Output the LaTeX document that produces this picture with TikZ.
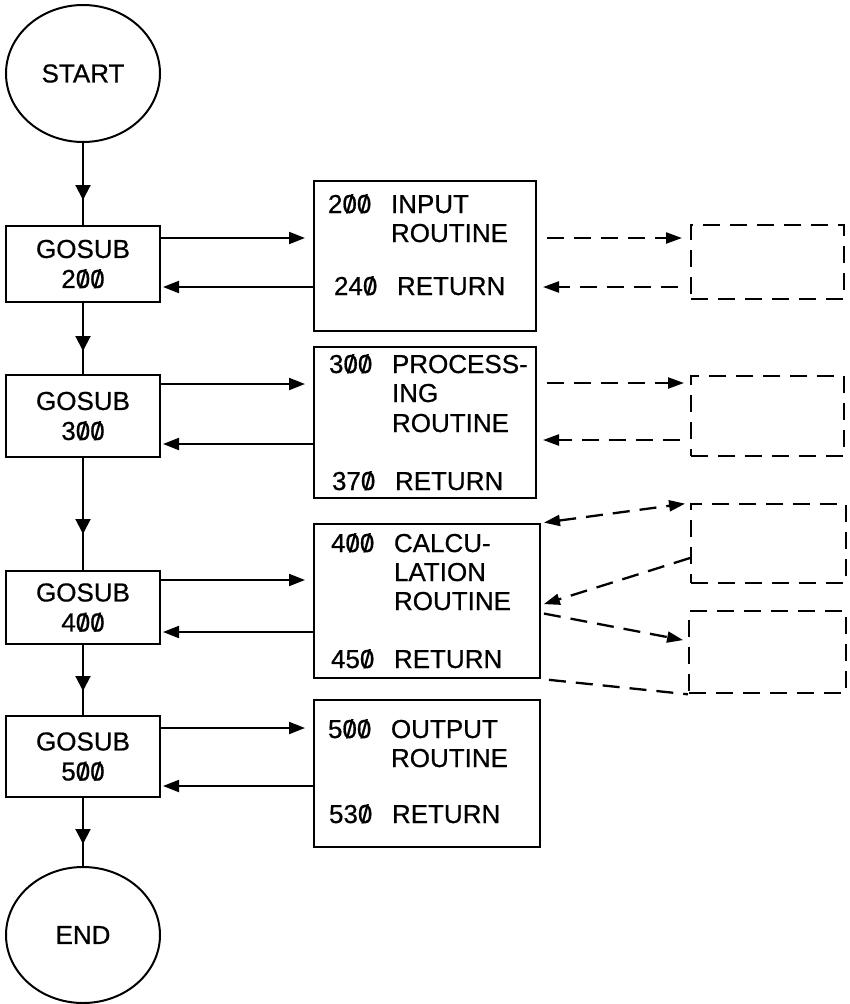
\documentclass[tikz,border=0pt]{standalone}
\usepackage{fontspec}
\setmainfont{Liberation Sans}[FakeBold=0.6]
\usetikzlibrary{arrows.meta,decorations.markings,shapes.geometric}
\newcommand{\slz}{\ooalign{0\cr\hidewidth/\hidewidth\cr}}
\newcommand{\numw}[2]{\makebox[63pt][l]{#1}#2}
\begin{document}
\begin{tikzpicture}[x=1pt,y=-1pt,line width=2pt,
  font=\fontsize{26}{30}\selectfont,
  terminal/.style={draw,ellipse,inner sep=0pt,minimum width=154pt,minimum height=137pt},
  gbox/.style={draw,rectangle,inner sep=0pt,minimum width=154pt,align=center},
  rbox/.style={draw,rectangle,inner sep=0pt,anchor=north west},
  dbox/.style={draw,rectangle,inner sep=0pt,anchor=north west,line width=2.3pt,dash pattern=on 17pt off 10pt},
  txt/.style={anchor=base west,inner sep=0pt},
  harr/.style={-{Triangle[length=16pt,width=12pt]}},
  darr/.style={line width=2.3pt,dash pattern=on 17pt off 10pt,-{Triangle[length=16pt,width=11pt]}},
  midarrow/.style={postaction={decorate,decoration={markings,
     mark=at position #1 with {\arrow{Triangle[length=15pt,width=15pt]}}}}}
]
\useasboundingbox (0,0) rectangle (849,1004);

% terminals
\node[terminal] (start) at (83,73.5) {START};
\node[terminal,minimum height=136pt] (end) at (83,935) {END};

% gosub boxes
\node[gbox,minimum height=76pt] (g2) at (83,264) {GOSUB\\2\slz\slz};
\node[gbox,minimum height=82pt] (g3) at (83,416) {GOSUB\\3\slz\slz};
\node[gbox,minimum height=73pt] (g4) at (83,607.5) {GOSUB\\4\slz\slz};
\node[gbox,minimum height=81pt] (g5) at (83,756.5) {GOSUB\\5\slz\slz};

% routine boxes
\node[rbox,minimum width=222pt,minimum height=150pt] (r2) at (313,180) {};
\node[rbox,minimum width=222pt,minimum height=151pt] (r3) at (313,346) {};
\node[rbox,minimum width=226pt,minimum height=154pt] (r4) at (313,523) {};
\node[rbox,minimum width=226pt,minimum height=147pt] (r5) at (313,699) {};

% routine texts
\node[txt] (r2a) at (327,213) {\numw{2\slz\slz}{INPUT}};
\node[txt] (r2b) at (390,242) {ROUTINE};
\node[txt] (r2c) at (333,295) {\numw{24\slz}{RETURN}};

\node[txt] (r3a) at (328,373) {\numw{3\slz\slz}{PROCESS-}};
\node[txt] (r3b) at (391,402) {ING};
\node[txt] (r3c) at (391,432) {ROUTINE};
\node[txt] (r3d) at (331,490) {\numw{37\slz}{RETURN}};

\node[txt] (r4a) at (330,552) {\numw{4\slz\slz}{CALCU-}};
\node[txt] (r4b) at (393,581) {LATION};
\node[txt] (r4c) at (393,610) {ROUTINE};
\node[txt] (r4d) at (330,668) {\numw{45\slz}{RETURN}};

\node[txt] (r5a) at (327,738) {\numw{5\slz\slz}{OUTPUT}};
\node[txt] (r5b) at (390,767) {ROUTINE};
\node[txt] (r5c) at (328,823) {\numw{53\slz}{RETURN}};

% dashed boxes
\node[dbox,minimum width=153pt,minimum height=74pt] (d2) at (690,224) {};
\node[dbox,minimum width=153pt,minimum height=80pt] (d3) at (690,375) {};
\node[dbox,minimum width=155pt,minimum height=79pt] (d4a) at (690,503) {};
\node[dbox,minimum width=157pt,minimum height=82pt] (d4b) at (688,610) {};

% main vertical flow
\draw[midarrow=57pt] (start.south) -- (g2.north);
\draw[midarrow=48pt] (g2.south) -- (g3.north);
\draw[midarrow=76pt] (g3.south) -- (g4.north);
\draw[midarrow=46pt] (g4.south) -- (g5.north);
\draw[midarrow=46pt] (g5.south) -- (end.north);

% calls and returns
\draw[harr,shorten >=8pt] (g2.east |- 0,238) -- (r2.west |- 0,238);
\draw[harr,shorten >=2pt] (r2.west |- 0,287) -- (g2.east |- 0,287);
\draw[harr,shorten >=8pt] (g3.east |- 0,384) -- (r3.west |- 0,384);
\draw[harr,shorten >=2pt] (r3.west |- 0,444) -- (g3.east |- 0,444);
\draw[harr,shorten >=8pt] (g4.east |- 0,580) -- (r4.west |- 0,580);
\draw[harr,shorten >=2pt] (r4.west |- 0,632) -- (g4.east |- 0,632);
\draw[harr,shorten >=8pt] (g5.east |- 0,728) -- (r5.west |- 0,728);
\draw[harr,shorten >=2pt] (r5.west |- 0,786) -- (g5.east |- 0,786);

% dashed links
\draw[darr,shorten <=10pt,shorten >=8pt] (r2.east |- 0,238) -- (d2.west |- 0,238);
\draw[darr,shorten <=12pt,shorten >=6pt] (d2.west |- 0,287) -- (r2.east |- 0,287);
\draw[darr,shorten <=10pt,shorten >=6pt] (r3.east |- 0,383) -- (d3.west |- 0,383);
\draw[darr,shorten <=10pt,shorten >=6pt] (d3.west |- 0,440) -- (r3.east |- 0,440);

\draw[line width=2.3pt,dash pattern=on 17pt off 10pt,{Triangle[length=16pt,width=11pt]}-{Triangle[length=16pt,width=11pt]},shorten <=3pt,shorten >=5pt] (r4.north east) -- (d4a.north west);
\draw[darr,shorten >=3pt] (d4a.west |- 0,558) -- (r4.east |- 0,605);
\draw[darr,shorten <=3pt,shorten >=5pt] (r4.east |- 0,613) -- (d4b.west |- 0,641);
\draw[line width=2.3pt,dash pattern=on 17pt off 10pt,shorten <=8pt] (r4.south east) -- (d4b.south west);
\end{tikzpicture}
\end{document}
